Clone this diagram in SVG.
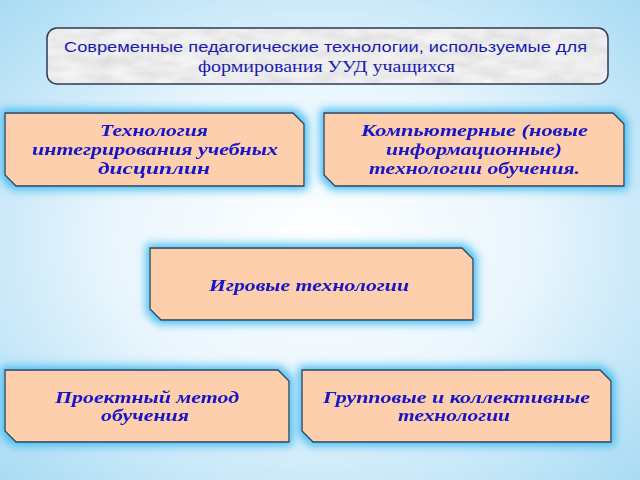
<svg xmlns="http://www.w3.org/2000/svg" width="640" height="480" viewBox="0 0 640 480">
<defs>
<radialGradient id="bg" cx="0.5" cy="0.5" r="0.72">
<stop offset="0" stop-color="#ffffff"/>
<stop offset="0.45" stop-color="#eaf6fd"/>
<stop offset="1" stop-color="#a6daf4"/>
</radialGradient>
<filter id="marble" x="0" y="0" width="1" height="1">
<feTurbulence type="fractalNoise" baseFrequency="0.035 0.09" numOctaves="4" seed="3" result="n"/>
<feColorMatrix in="n" type="matrix" values="0 0 0 0 0.7  0 0 0 0 0.7  0 0 0 0 0.72  -1.3 0 0 0 1.0" result="veins"/>
<feFlood flood-color="#f4f4f4" result="base"/>
<feComposite in="veins" in2="base" operator="over" result="m"/>
<feComposite in="m" in2="SourceGraphic" operator="in"/>
</filter>
<filter id="glow" x="-10%" y="-25%" width="120%" height="150%">
<feMorphology in="SourceAlpha" operator="dilate" radius="2.5" result="d"/>
<feGaussianBlur in="d" stdDeviation="5" result="b"/>
<feFlood flood-color="#40baf0" result="c"/>
<feComposite in="c" in2="b" operator="in" result="g"/>
<feMerge><feMergeNode in="g"/><feMergeNode in="SourceGraphic"/></feMerge>
</filter>
</defs>
<style>
.box{fill:#fdcfac;stroke:#2e3a55;stroke-width:1.3}
.t{font-family:"Liberation Serif",serif;font-weight:bold;font-style:italic;font-size:16px;fill:#1414c8}
.h{font-family:"Liberation Sans",sans-serif;font-size:15px;fill:#1a1ab0}
.h2{font-family:"Liberation Serif",serif;font-size:16px;fill:#1a1ab0}
</style>
<rect width="640" height="480" fill="url(#bg)"/>
<g id="title">
<rect x="47" y="28" width="561" height="56" rx="10" fill="#fff" filter="url(#marble)"/>
<rect x="47" y="28" width="561" height="56" rx="10" fill="none" stroke="#2e3a55" stroke-width="1.5"/>
<text class="h" x="64" y="52" textLength="523" lengthAdjust="spacingAndGlyphs">Современные педагогические технологии, используемые для</text>
<text class="h2" x="198" y="72" textLength="257" lengthAdjust="spacingAndGlyphs">формирования УУД учащихся</text>
</g>
<g id="n1" filter="url(#glow)">
<path class="box" d="M5 113 H293 L304 124 V186 H16 L5 175 Z"/>
<text class="t" x="100" y="136" textLength="108" lengthAdjust="spacingAndGlyphs">Технология</text>
<text class="t" x="32" y="155" textLength="246" lengthAdjust="spacingAndGlyphs">интегрирования учебных</text>
<text class="t" x="98" y="174" textLength="112" lengthAdjust="spacingAndGlyphs">дисциплин</text>
</g>
<g id="n2" filter="url(#glow)">
<path class="box" d="M324 113 H613 L624 124 V186 H335 L324 175 Z"/>
<text class="t" x="361" y="136" textLength="227" lengthAdjust="spacingAndGlyphs">Компьютерные (новые</text>
<text class="t" x="386" y="155" textLength="176" lengthAdjust="spacingAndGlyphs">информационные)</text>
<text class="t" x="369" y="174" textLength="211" lengthAdjust="spacingAndGlyphs">технологии обучения.</text>
</g>
<g id="n3" filter="url(#glow)">
<path class="box" d="M150 248 H462 L473 259 V320 H161 L150 309 Z"/>
<text class="t" x="209" y="291" textLength="200" lengthAdjust="spacingAndGlyphs">Игровые технологии</text>
</g>
<g id="n4" filter="url(#glow)">
<path class="box" d="M5 370 H278 L289 381 V442 H16 L5 431 Z"/>
<text class="t" x="55" y="403" textLength="184" lengthAdjust="spacingAndGlyphs">Проектный метод</text>
<text class="t" x="101" y="421" textLength="88" lengthAdjust="spacingAndGlyphs">обучения</text>
</g>
<g id="n5" filter="url(#glow)">
<path class="box" d="M302 370 H600 L611 381 V442 H313 L302 431 Z"/>
<text class="t" x="323" y="403" textLength="267" lengthAdjust="spacingAndGlyphs">Групповые и коллективные</text>
<text class="t" x="398" y="421" textLength="112" lengthAdjust="spacingAndGlyphs">технологии</text>
</g>
<g id="connectors"></g>
</svg>
